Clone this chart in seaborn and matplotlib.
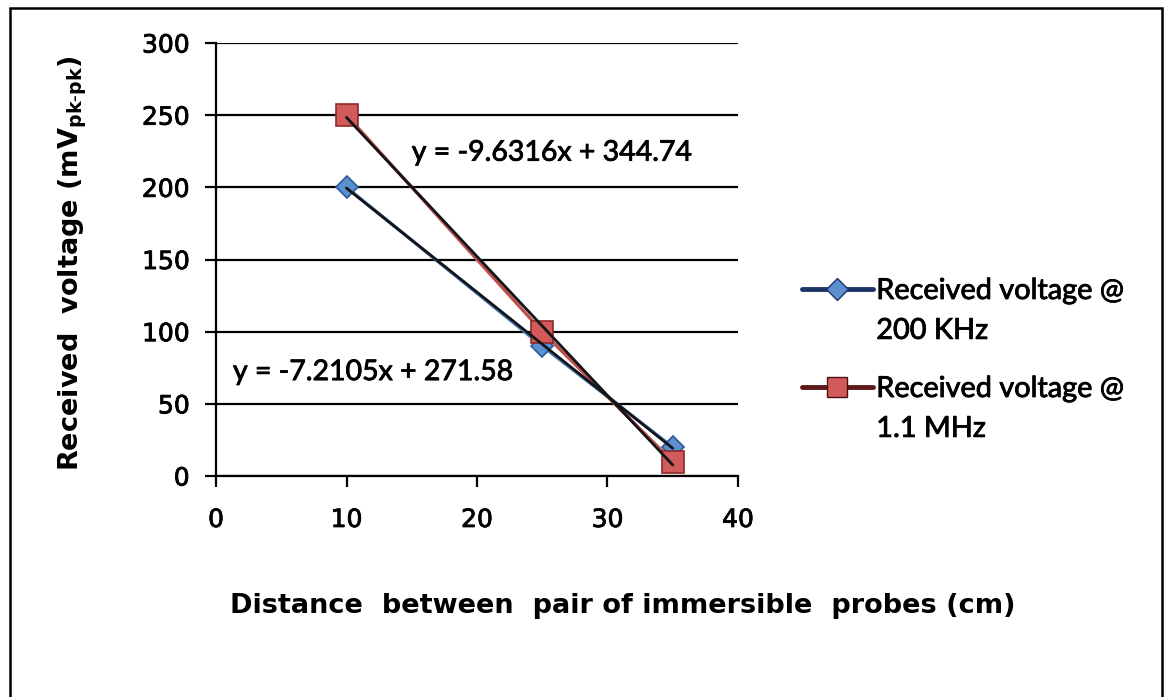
import numpy as np
import pandas as pd
import matplotlib
matplotlib.use('Agg')
import matplotlib.pyplot as plt
import matplotlib.patheffects as pe
import seaborn as sns
from matplotlib.lines import Line2D
from matplotlib.patches import Rectangle

# ---- data ----
distance_cm = [10, 25, 35]
voltage_200khz = [200, 90, 20]
voltage_1_1mhz = [250, 100, 10]
legend_first_line = ["Received voltage @", "Received voltage @"]
legend_second_line = ["200 KHz", "1.1 MHz"]
x_ticks = [0, 10, 20, 30, 40]
y_ticks = [0, 50, 100, 150, 200, 250, 300]
eq_200khz = "y = -7.2105x + 271.58"
eq_1_1mhz = "y = -9.6316x + 344.74"
x_label = "Distance  between  pair of immersible  probes (cm)"
y_label = r"Received  voltage (mV$_{\mathbf{pk}\text{-}\mathbf{pk}}$)"

sns.set_theme(style="white")
plt.rcParams['font.family'] = ['DejaVu Sans']
plt.rcParams['mathtext.fontset'] = 'dejavusans'

W, H = 1165, 697
fig = plt.figure(figsize=(W / 100, H / 100), dpi=100)
fig.patch.set_facecolor('white')
ax = fig.add_axes([216 / W, 1 - 476 / H, 522 / W, 433 / H])
ax.set_facecolor('white')

blue_line = '#4A7EBB'
blue_face = '#5B8FD0'
blue_edge = '#2D5A96'
red_line = '#C0504D'
red_face = '#D35A5A'
red_edge = '#8C2A2A'
trend_col = '#121418'

df = pd.DataFrame({
    'distance': distance_cm * 2,
    'voltage': voltage_200khz + voltage_1_1mhz,
    'series': ['200 KHz'] * len(distance_cm) + ['1.1 MHz'] * len(distance_cm),
})

d1 = df[df.series == '200 KHz']
d2 = df[df.series == '1.1 MHz']

sns.lineplot(data=d1, x='distance', y='voltage', ax=ax, color=blue_line, lw=2.4,
             marker='D', markersize=11, markerfacecolor=blue_face,
             markeredgecolor=blue_edge, markeredgewidth=1.2, zorder=3, legend=False)
sns.lineplot(data=d2, x='distance', y='voltage', ax=ax, color=red_line, lw=2.4,
             marker='s', markersize=16, markerfacecolor=red_face,
             markeredgecolor=red_edge, markeredgewidth=1.2, zorder=3, legend=False)

# linear trendlines
sns.regplot(data=d1, x='distance', y='voltage', ax=ax, scatter=False, ci=None,
            truncate=True, line_kws=dict(color=trend_col, lw=2.0, zorder=4))
sns.regplot(data=d2, x='distance', y='voltage', ax=ax, scatter=False, ci=None,
            truncate=True, line_kws=dict(color=trend_col, lw=2.0, zorder=4))

ax.set_xlim(0, 40)
ax.set_ylim(0, 300)
ax.set_xticks(x_ticks)
ax.set_yticks(y_ticks)

ax.yaxis.grid(True, color='black', lw=1.6)
ax.xaxis.grid(False)
ax.set_axisbelow(True)
for s in ['top', 'right']:
    ax.spines[s].set_visible(False)
for s in ['left', 'bottom']:
    ax.spines[s].set_color('black')
    ax.spines[s].set_linewidth(1.6)

ax.tick_params(axis='both', which='major', bottom=True, left=True, direction='out',
               length=8, width=1.6, color='black', labelsize=18, labelcolor='black')
ax.tick_params(axis='x', pad=15)
ax.tick_params(axis='y', pad=11)

thick = [pe.withStroke(linewidth=0.6, foreground='black')]
for lab in ax.get_xticklabels() + ax.get_yticklabels():
    lab.set_path_effects(thick)

ax.set_xlabel(x_label, fontsize=19.5, fontweight='bold', color='black')
ax.xaxis.label.set_va('center')
ax.xaxis.set_label_coords((623 - 216) / 522, (476 - 606) / 433)
ax.set_ylabel(y_label, fontsize=19.5, fontweight='bold', color='black')
ax.yaxis.label.set_va('center')
ax.yaxis.set_label_coords((73 - 216) / 522, (476 - 263) / 433)

# trendline equations
ax.text(15.0, 224, eq_1_1mhz, ha='left', va='center', fontsize=20.5,
        family=['Lato', 'DejaVu Sans'], color='black', zorder=6, path_effects=thick)
ax.text(1.3, 72, eq_200khz, ha='left', va='center', fontsize=20.5,
        family=['Lato', 'DejaVu Sans'], color='black', zorder=6, path_effects=thick)

# legends
blank = Line2D([], [], linestyle='none', marker=None)
h1 = Line2D([], [], color='#1F3466', lw=3.5, marker='D', markersize=11,
            markerfacecolor=blue_face, markeredgecolor='#1F3466')
h2 = Line2D([], [], color='#5E1818', lw=3.5, marker='s', markersize=15,
            markerfacecolor=red_face, markeredgecolor='#4A1010')
leg_kw = dict(loc='upper left', frameon=False, handlelength=2.45, handletextpad=0.12,
              borderpad=0, borderaxespad=0, labelspacing=0.48,
              prop={'family': ['Lato', 'DejaVu Sans'], 'size': 20.8})
leg1 = fig.legend([h1, blank], [legend_first_line[0], legend_second_line[0]],
                  bbox_to_anchor=(802 / W, 1 - 278 / H), **leg_kw)
leg2 = fig.legend([h2, blank], [legend_first_line[1], legend_second_line[1]],
                  bbox_to_anchor=(802 / W, 1 - 376 / H), **leg_kw)
for leg in (leg1, leg2):
    for t in leg.get_texts():
        t.set_color('black')
        t.set_path_effects(thick)

# outer border
fig.patches.append(Rectangle((10 / W, -0.01), (1162 - 10) / W, 1.01 - 8 / H,
                             transform=fig.transFigure, fill=False,
                             edgecolor='black', lw=1.8, zorder=10))

fig.savefig('out.png', dpi=100, facecolor='white')
